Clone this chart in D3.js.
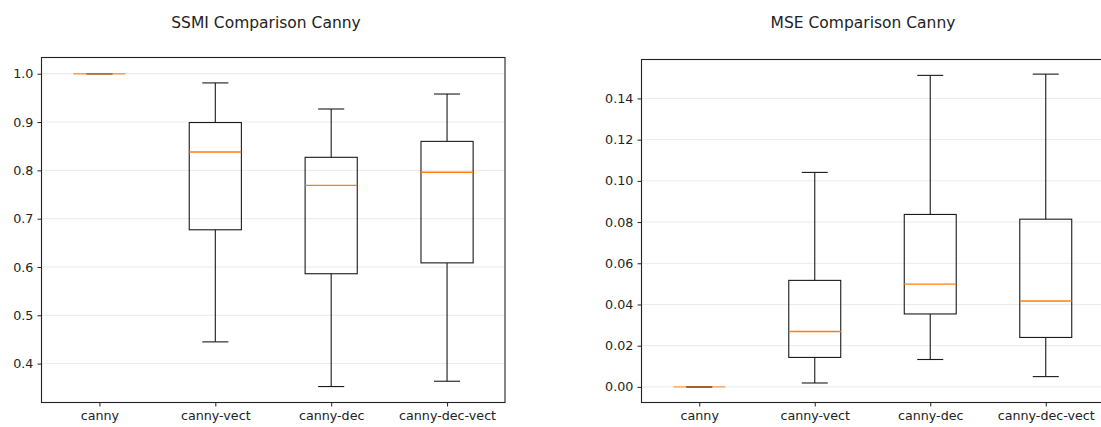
<!DOCTYPE html>
<html>
<head>
<meta charset="utf-8">
<script src="https://cdn.jsdelivr.net/npm/d3@7"></script>
<style>
  body { margin: 0; background: #fff; }
  svg { display: block; font-family: "DejaVu Sans", sans-serif; }
</style>
</head>
<body>
<script>
// box stats per category: [lower whisker, q1, median, q3, upper whisker]
let categories = ["canny", "canny-vect", "canny-dec", "canny-dec-vect"];
let ssmiStats = [
    [1.0, 1.0, 1.0, 1.0, 1.0],
    [0.445, 0.677, 0.838, 0.899, 0.981],
    [0.3525, 0.586, 0.769, 0.827, 0.927],
    [0.3635, 0.6085, 0.796, 0.860, 0.958]
];
let mseStats = [
    [0.0, 0.0, 0.0, 0.0, 0.0],
    [0.0019, 0.0143, 0.0269, 0.0517, 0.1041],
    [0.0133, 0.0354, 0.0499, 0.0837, 0.1512],
    [0.005, 0.024, 0.0417, 0.0814, 0.1518]
];
let ssmiTicks = [0.4, 0.5, 0.6, 0.7, 0.8, 0.9, 1.0];
let mseTicks = [0.00, 0.02, 0.04, 0.06, 0.08, 0.10, 0.12, 0.14];

let size = {width: 1101, height: 427};
let svg = d3.select("body").append("svg")
    .attr("width", size.width)
    .attr("height", size.height);

function boxPanel(opts) {
    let {left, right, top, bottom, stats, ticks, domain, fmt, title, titleX} = opts;

    let x = d3.scaleLinear().domain([0.5, categories.length + 0.5]).range([left, right]);
    let y = d3.scaleLinear().domain(domain).range([bottom, top]);

    let g = svg.append("g");

    // grid
    g.append("g").selectAll("line")
        .data(ticks)
        .join("line")
        .attr("x1", left).attr("x2", right)
        .attr("y1", d => y(d)).attr("y2", d => y(d))
        .attr("stroke", "#ebebeb")
        .attr("stroke-width", 1);

    let boxW = x(1.45) - x(1);
    let capW = boxW / 2;

    let boxes = g.append("g").selectAll("g")
        .data(stats)
        .join("g")
        .attr("stroke", "#1a1a1a")
        .attr("stroke-width", 1.1);

    boxes.append("line")
        .attr("x1", (d, i) => x(i + 1)).attr("x2", (d, i) => x(i + 1))
        .attr("y1", d => y(d[0])).attr("y2", d => y(d[1]));
    boxes.append("line")
        .attr("x1", (d, i) => x(i + 1)).attr("x2", (d, i) => x(i + 1))
        .attr("y1", d => y(d[3])).attr("y2", d => y(d[4]));
    boxes.append("line")
        .attr("x1", (d, i) => x(i + 1) - capW / 2).attr("x2", (d, i) => x(i + 1) + capW / 2)
        .attr("y1", d => y(d[0])).attr("y2", d => y(d[0]));
    boxes.append("line")
        .attr("x1", (d, i) => x(i + 1) - capW / 2).attr("x2", (d, i) => x(i + 1) + capW / 2)
        .attr("y1", d => y(d[4])).attr("y2", d => y(d[4]));
    boxes.append("rect")
        .attr("x", (d, i) => x(i + 1) - boxW / 2)
        .attr("width", boxW)
        .attr("y", d => y(d[3]))
        .attr("height", d => y(d[1]) - y(d[3]))
        .attr("fill", "none");
    boxes.append("line")
        .attr("x1", (d, i) => x(i + 1) - boxW / 2).attr("x2", (d, i) => x(i + 1) + boxW / 2)
        .attr("y1", d => y(d[2])).attr("y2", d => y(d[2]))
        .attr("stroke", "#ff7f0e")
        .attr("stroke-opacity", d => d[1] === d[3] ? 0.75 : 1)
        .attr("stroke-width", 1.4);

    // axes
    g.append("g")
        .attr("transform", `translate(0,${bottom})`)
        .call(d3.axisBottom(x).tickValues(d3.range(1, categories.length + 1))
            .tickFormat(d => categories[d - 1]).tickSize(4).tickPadding(4).tickSizeOuter(0))
        .call(g => g.select(".domain").remove())
        .call(g => g.selectAll("line").attr("stroke", "#222"))
        .call(g => g.selectAll("text").attr("dy", "0.71em").attr("font-size", 12.7).attr("fill", "#222")
            .attr("font-family", "DejaVu Sans"));

    g.append("g")
        .attr("transform", `translate(${left},0)`)
        .call(d3.axisLeft(y).tickValues(ticks).tickFormat(fmt).tickSize(4).tickPadding(4.2).tickSizeOuter(0))
        .call(g => g.select(".domain").remove())
        .call(g => g.selectAll("line").attr("stroke", "#222"))
        .call(g => g.selectAll("text").attr("font-size", 12.7).attr("fill", "#222")
            .attr("font-family", "DejaVu Sans"));

    g.append("rect")
        .attr("x", left).attr("y", top)
        .attr("width", right - left).attr("height", bottom - top)
        .attr("fill", "none")
        .attr("stroke", "#222")
        .attr("stroke-width", 1.1);

    svg.append("text")
        .attr("x", titleX).attr("y", 28)
        .attr("text-anchor", "middle")
        .attr("font-size", 15.5)
        .attr("fill", "#222")
        .text(title);
}

boxPanel({
    left: 41.5, right: 505, top: 57.5, bottom: 402.5,
    stats: ssmiStats, ticks: ssmiTicks, domain: [0.3195, 1.0336],
    fmt: d3.format(".1f"), title: "SSMI Comparison Canny", titleX: 266
});

boxPanel({
    left: 641.5, right: 1103.5, top: 59.5, bottom: 402.5,
    stats: mseStats, ticks: mseTicks, domain: [-0.00757, 0.1589],
    fmt: d3.format(".2f"), title: "MSE Comparison Canny", titleX: 863
});
</script>
</body>
</html>
